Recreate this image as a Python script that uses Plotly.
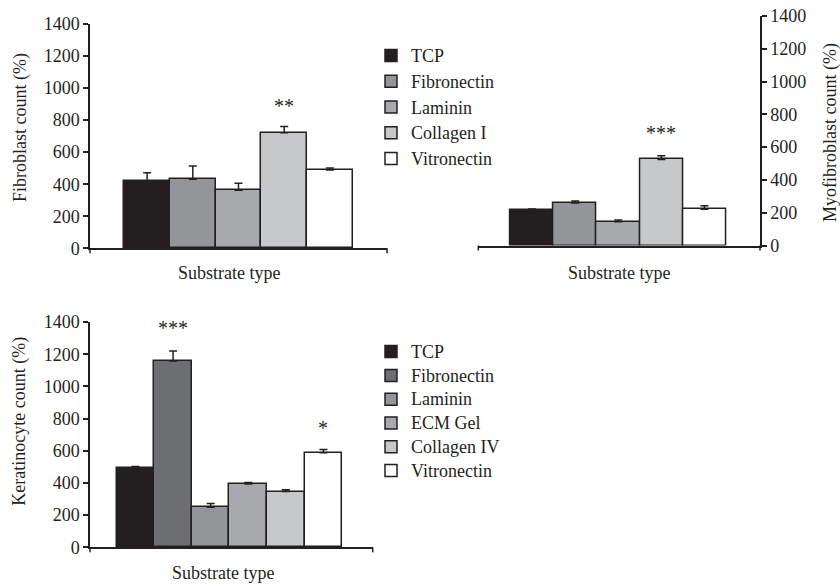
import plotly.graph_objects as go

# ---------------- data ----------------
fib_substrates = ["TCP", "Fibronectin", "Laminin", "Collagen I", "Vitronectin"]
fib_values = [422, 431, 362, 722, 489]
fib_errors = [50, 83, 44, 39, 12]

myo_substrates = ["TCP", "Fibronectin", "Laminin", "Collagen I", "Vitronectin"]
myo_values = [217, 260, 145, 525, 221]
myo_errors = [6, 12, 11, 23, 22]

ker_substrates = ["TCP", "Fibronectin", "Laminin", "ECM Gel", "Collagen IV", "Vitronectin"]
ker_values = [492, 1158, 249, 394, 346, 587]
ker_errors = [10, 62, 23, 8, 11, 21]

top_colors = ["#231f20", "#939598", "#a7a9ac", "#c7c8ca", "#ffffff"]
bottom_colors = ["#231f20", "#6d6e71", "#939598", "#a7a9ac", "#c7c8ca", "#ffffff"]

y_ticks = [0, 200, 400, 600, 800, 1000, 1200, 1400]

INK = "#231f20"
FONT = "Liberation Serif"
W, H = 840, 584

fig = go.Figure()


def add_panel(names, vals, errs, colors, xa, ya, legend, show):
    for i, (n, v, e, c) in enumerate(zip(names, vals, errs, colors)):
        fig.add_trace(go.Bar(
            x=[i], y=[v], name="<span style='font-size:18px'>%s</span>" % n, width=1.0,
            marker=dict(color=c, line=dict(color=INK, width=1.5)),
            error_y=dict(type="data", array=[e], arrayminus=[0], symmetric=False,
                         color=INK, thickness=1.5, width=4),
            xaxis=xa, yaxis=ya, showlegend=show, legend=legend,
            legendgroup=legend + n, hovertext=n,
        ))


add_panel(fib_substrates, fib_values, fib_errors, top_colors, "x", "y", "legend", True)
add_panel(myo_substrates, myo_values, myo_errors, top_colors, "x2", "y2", "legend", False)
add_panel(ker_substrates, ker_values, ker_errors, bottom_colors, "x3", "y3", "legend2", True)


def px_x(p):
    return p / W


def px_y(p):
    return 1 - p / H


axis_common = dict(showline=True, linecolor=INK, linewidth=1.5, showgrid=False,
                   zeroline=False, fixedrange=True, automargin=False)
yaxis_common = dict(axis_common, range=[0, 1400], tickvals=y_ticks, ticks="outside",
                    ticklen=5, tickwidth=1.5, tickcolor=INK,
                    tickfont=dict(family=FONT, size=18, color=INK))
xaxis_common = dict(axis_common, showticklabels=False, ticks="")

fig.update_layout(
    template="none",
    width=W, height=H,
    margin=dict(l=0, r=0, t=0, b=0, pad=0, autoexpand=False),
    paper_bgcolor="white", plot_bgcolor="white",
    barmode="overlay", bargap=0,
    showlegend=True,
    font=dict(family=FONT, size=18, color=INK),
    xaxis=dict(xaxis_common, domain=[px_x(90), px_x(387)], range=[-1.25, 5.25], anchor="y"),
    yaxis=dict(yaxis_common, domain=[px_y(248.3), px_y(24)], anchor="x"),
    xaxis2=dict(xaxis_common, domain=[px_x(478.3), px_x(760)], range=[-1.25, 5.29], anchor="y2"),
    yaxis2=dict(yaxis_common, domain=[px_y(245.5), px_y(16)], anchor="x2", side="right"),
    xaxis3=dict(xaxis_common, domain=[px_x(90), px_x(372.7)], range=[-1.21, 6.31], anchor="y3"),
    yaxis3=dict(yaxis_common, domain=[px_y(547.3), px_y(322)], anchor="x3"),
    legend=dict(x=px_x(371), y=px_y(37.5), xanchor="left", yanchor="top",
                font=dict(family=FONT, size=17.5, color=INK), bgcolor="rgba(0,0,0,0)",
                tracegroupgap=0, itemclick=False, itemdoubleclick=False),
    legend2=dict(x=px_x(371), y=px_y(334.7), xanchor="left", yanchor="top",
                 font=dict(family=FONT, size=16, color=INK), bgcolor="rgba(0,0,0,0)",
                 tracegroupgap=0, itemclick=False, itemdoubleclick=False),
)

# axis titles
ann = []
ann.append(dict(text="Fibroblast count (%)", x=px_x(20), y=px_y(128), textangle=-90))
ann.append(dict(text="Myofibroblast count (%)", x=px_x(831), y=px_y(133), textangle=-90))
ann.append(dict(text="Keratinocyte count (%)", x=px_x(20), y=px_y(421.7), textangle=-90))
ann.append(dict(text="Substrate type", x=px_x(229), y=px_y(272.7)))
ann.append(dict(text="Substrate type", x=px_x(619), y=px_y(272.7)))
ann.append(dict(text="Substrate type", x=px_x(222.7), y=px_y(573)))
for a in ann:
    fig.add_annotation(xref="paper", yref="paper", showarrow=False,
                       xanchor="center", yanchor="middle",
                       font=dict(family=FONT, size=18, color=INK), **a)

# significance markers
sig = [("**", 3, 903, "x", "y"), ("***", 3, 699, "x2", "y2"),
       ("***", 1, 1378, "x3", "y3"), ("*", 5, 753, "x3", "y3")]
for t, xi, yv, xa, ya in sig:
    fig.add_annotation(text=t, x=xi, y=yv, xref=xa, yref=ya, showarrow=False,
                       xanchor="center", yanchor="middle", yshift=-2,
                       font=dict(family=FONT, size=20, color=INK))

# small spine extensions below the x axes / end ticks
ext = 5
shapes = []
for xref, yref, hpx in [("x domain", "y domain", 224.3),
                        ("x2 domain", "y2 domain", 229.5),
                        ("x3 domain", "y3 domain", 225.3)]:
    for xv in [0, 1]:
        shapes.append(dict(type="line", xref=xref, yref=yref, x0=xv, x1=xv,
                           y0=0, y1=-ext / hpx, line=dict(color=INK, width=1.5)))
fig.update_layout(shapes=shapes)

fig.write_html("out.html")
